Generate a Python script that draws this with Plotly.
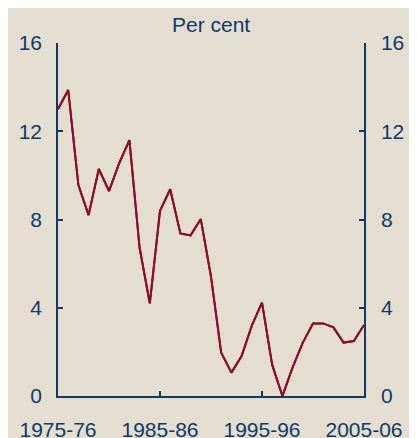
import plotly.graph_objects as go

years = ["1975-76","1976-77","1977-78","1978-79","1979-80","1980-81","1981-82","1982-83",
         "1983-84","1984-85","1985-86","1986-87","1987-88","1988-89","1989-90","1990-91",
         "1991-92","1992-93","1993-94","1994-95","1995-96","1996-97","1997-98","1998-99",
         "1999-00","2000-01","2001-02","2002-03","2003-04","2004-05","2005-06"]
values = [13.0, 13.87, 9.56, 8.2, 10.29, 9.29, 10.55, 11.6, 6.72, 4.2, 8.39, 9.37, 7.37, 7.28,
          8.02, 5.41, 1.96, 1.06, 1.81, 3.19, 4.23, 1.41, 0.0, 1.3, 2.42, 3.29, 3.29, 3.11,
          2.42, 2.49, 3.22]
tick_labels = ["1975-76", "1985-86", "1995-96", "2005-06"]
y_ticks = [0, 4, 8, 12, 16]

BG = "#E4DED1"
NAVY = "#0E3A68"
RED = "#8C0B2E"
FONT = "Liberation Sans, Arial, sans-serif"

xs = list(range(len(years)))
tick_pos = [years.index(t) for t in tick_labels]

fig = go.Figure()
fig.add_trace(go.Scatter(x=xs, y=values, mode="lines", line=dict(color=RED, width=2),
                         showlegend=False, hoverinfo="skip"))
fig.add_trace(go.Scatter(x=xs, y=values, mode="lines", line=dict(color=RED, width=2),
                         showlegend=False, hoverinfo="skip", yaxis="y2"))

axis_common = dict(range=[0, 16], tickvals=y_ticks, ticks="inside", ticklen=5,
                   tickcolor=NAVY, tickwidth=1.5, showline=True, linecolor=NAVY,
                   linewidth=1.5, showgrid=False, zeroline=False, automargin=False,
                   tickfont=dict(family=FONT, size=21, color=NAVY), fixedrange=True)

fig.update_layout(
    width=409, height=430,
    paper_bgcolor=BG, plot_bgcolor=BG,
    margin=dict(l=50, r=53, t=35, b=42),
    xaxis=dict(range=[0, len(years) - 1], tickvals=tick_pos, ticktext=tick_labels,
               ticks="inside", ticklen=5, tickcolor=NAVY, tickwidth=1.5,
               showline=True, linecolor=NAVY, linewidth=1.5, showgrid=False,
               zeroline=False, automargin=False,
               tickfont=dict(family=FONT, size=21, color=NAVY),
               ticklabelstandoff=14),
    yaxis=dict(side="left", ticklabelstandoff=10, **axis_common),
    yaxis2=dict(side="right", overlaying="y", ticklabelstandoff=11, **axis_common),
    annotations=[dict(text="Per cent", x=0.5, xref="paper", y=1, yref="paper",
                      yanchor="bottom", yshift=5, showarrow=False,
                      font=dict(family=FONT, size=21, color=NAVY))],
)

fig.write_html("out.html")
